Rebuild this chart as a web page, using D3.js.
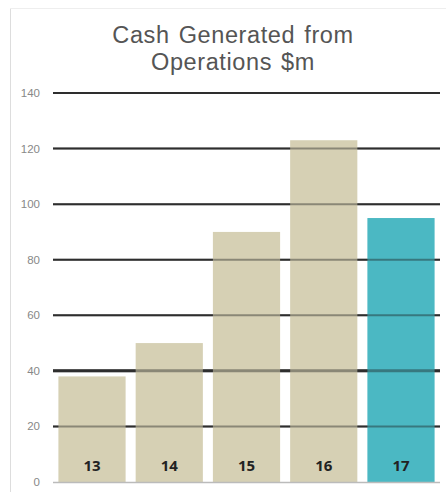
<!DOCTYPE html>
<html><head><meta charset="utf-8">
<script src="https://cdn.jsdelivr.net/npm/d3@7"></script>
<style>body{margin:0;background:#fff}svg{display:block}</style>
</head><body>
<script>
const categories = ["13","14","15","16","17"];
const values = [38, 50, 90, 123, 95];
const yTicks = [0,20,40,60,80,100,120,140];
const titleLines = ["Cash Generated from","Operations $m"];

const W=446,H=495;
const svg=d3.select("body").append("svg").attr("width",W).attr("height",H);
svg.append("line").attr("x1",10.5).attr("x2",10.5).attr("y1",8).attr("y2",492).attr("stroke","#ddd");
svg.append("line").attr("x1",10).attr("x2",446).attr("y1",8.5).attr("y2",8.5).attr("stroke","#eee");

const x=d3.scaleBand().domain(categories).range([53,440]).paddingInner(0.13).paddingOuter(0.07);
const y=d3.scaleLinear().domain([0,140]).range([482,93]);

svg.append("g").selectAll("text").data(titleLines).join("text")
  .attr("x",233).attr("y",(d,i)=>43+i*27).attr("text-anchor","middle")
  .attr("font-family","Liberation Sans, Arial, sans-serif").attr("font-size",23.5)
  .attr("letter-spacing",0.6).attr("word-spacing",2).attr("fill","#555").text(d=>d);

function grid(op){
  svg.append("g").selectAll("line").data(yTicks.filter(t=>t>0)).join("line")
    .attr("x1",53).attr("x2",440).attr("y1",d=>y(d)).attr("y2",d=>y(d))
    .attr("stroke","#1a1a1a").attr("stroke-opacity",op).attr("stroke-width",d=>d===40?3:2);
}
grid(0.85);

svg.append("g").selectAll("rect").data(values).join("rect")
  .attr("x",(d,i)=>x(categories[i])).attr("width",x.bandwidth())
  .attr("y",d=>y(d)).attr("height",d=>y(0)-y(d))
  .attr("fill",(d,i)=>i===4?"#4bb8c3":"#d6d0b4");

grid(0.4);

svg.append("line").attr("x1",53).attr("x2",440).attr("y1",y(0)+0.5).attr("y2",y(0)+0.5).attr("stroke","#bbb").attr("stroke-width",1.5);

svg.append("g").selectAll("text").data(yTicks).join("text")
  .attr("x",40).attr("y",d=>y(d)+4).attr("text-anchor","end")
  .attr("font-family","Liberation Sans, Arial, sans-serif").attr("font-size",11.5).attr("fill","#888").text(d=>d);

svg.append("g").selectAll("text").data(categories).join("text")
  .attr("x",d=>x(d)+x.bandwidth()/2).attr("y",471).attr("text-anchor","middle")
  .attr("font-family","Open Sans, sans-serif").attr("font-weight","bold").attr("font-size",15).attr("fill","#222").text(d=>d);
</script>
</body></html>
